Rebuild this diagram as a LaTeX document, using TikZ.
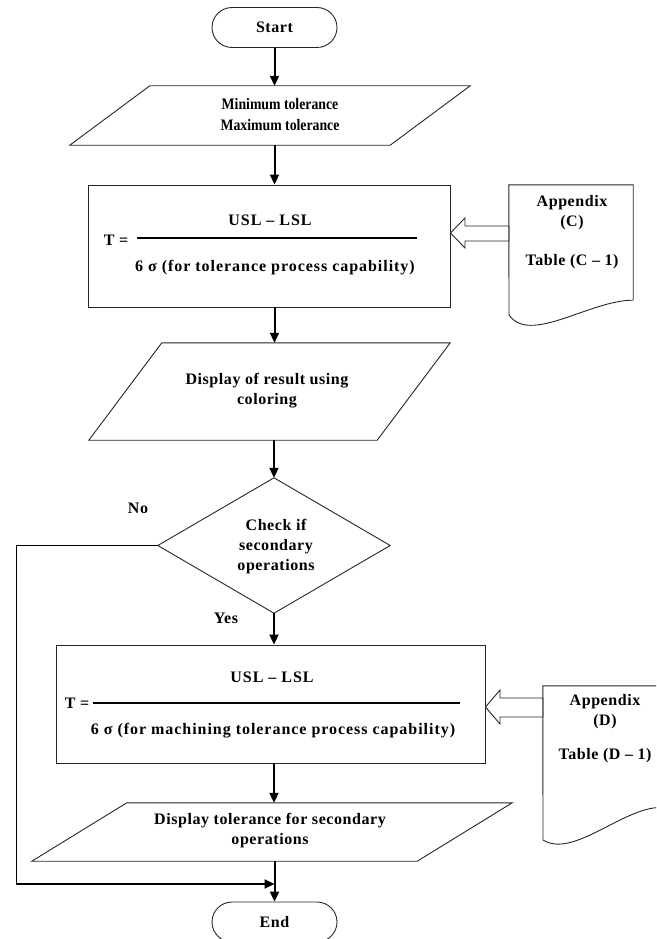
\documentclass[tikz,border=0pt]{standalone}
\usepackage{fontspec}
\setmainfont{Liberation Serif}
\newfontfamily\flowfont[LetterSpace=3.5]{Liberation Serif}
\newfontfamily\formulafont[LetterSpace=6]{Liberation Serif}
\usetikzlibrary{shapes.misc,arrows.meta,calc}
\begin{document}
\begin{tikzpicture}[x=1pt,y=-1pt,
  outline/.style={draw=black!85, line width=0.9pt},
  terminal/.style={outline, rounded rectangle, minimum width=125pt, minimum height=40pt, inner sep=0pt},
  frame/.style={outline, rectangle, inner sep=0pt},
  slot/.style={rectangle, inner sep=0pt},
  flow/.style={line width=2pt, -{Triangle[width=9pt,length=10pt]}},
  hollow/.style={draw=black!85, line width=0.9pt, fill=white, line join=miter},
  txt/.style={inner sep=0pt, align=center, font=\flowfont\fontsize{16}{20}\selectfont\bfseries},
  fml/.style={inner sep=0pt, align=center, font=\formulafont\fontsize{16}{20}\selectfont\bfseries},
  narrow/.style={inner sep=0pt, font=\fontsize{16}{21}\selectfont\bfseries},
  rule/.style={line width=2pt},
]
\useasboundingbox (0,0) rectangle (656,939);
\clip (0,0) rectangle (656,939);

% terminals
\node[terminal, txt] (start) at (274.5,27.5) {Start};
\node[terminal, txt] (end) at (274.5,922) {End};

% input: tolerances (condensed lettering)
\node[slot, minimum width=320pt, minimum height=59pt] (p1) at (270,115.5) {};
\draw[outline] ($(p1.north west)+(40,0)$) -- ($(p1.north east)+(40,0)$)
  -- ($(p1.south east)+(-40,0)$) -- ($(p1.south west)+(-40,0)$) -- cycle;
\node[narrow] (p1t) at (280,115.5)
  {\scalebox{0.86}[1]{\begin{tabular}{@{}c@{}}Minimum tolerance\\Maximum tolerance\end{tabular}}};

% process capability formula
\node[frame, minimum width=362pt, minimum height=122pt] (box1) at (269,246) {};
\node[txt] (t1) at (116,240) {T =};
\node[fml] (n1) at (270,220) {USL – LSL};
\draw[rule] (137,238) -- (417,238);
\node[fml] (d1) at (275,268) {6 σ (for tolerance process capability)};

% output: coloured result
\node[slot, minimum width=288pt, minimum height=97pt] (p2) at (269.5,391.5) {};
\draw[outline] ($(p2.north west)+(36.5,0)$) -- ($(p2.north east)+(36.5,0)$)
  -- ($(p2.south east)+(-36.5,0)$) -- ($(p2.south west)+(-36.5,0)$) -- cycle;
\node[txt] (p2t) at (267,391) {Display of result using\\coloring};

% decision
\node[slot, minimum width=232pt, minimum height=135pt] (dec) at (274,545.5) {};
\draw[outline] (dec.north) -- (dec.east) -- (dec.south) -- (dec.west) -- cycle;
\node[txt] (dect) at (276,547) {Check if\\secondary\\operations};
\node[txt] (no) at (138,508) {No};
\node[txt] (yes) at (226,618) {Yes};

% machining capability formula
\node[frame, minimum width=429pt, minimum height=118pt] (box2) at (270.5,704) {};
\node[txt] (t2) at (77,703) {T =};
\node[fml] (n2) at (272,677) {USL – LSL};
\draw[rule] (93,703) -- (460,703);
\node[fml] (d2) at (273,731) {6 σ (for machining tolerance process capability)};

% output: secondary tolerance
\node[slot, minimum width=385pt, minimum height=58pt] (p3) at (272,832) {};
\draw[outline] ($(p3.north west)+(47.5,0)$) -- ($(p3.north east)+(47.5,0)$)
  -- ($(p3.south east)+(-47.5,0)$) -- ($(p3.south west)+(-47.5,0)$) -- cycle;
\node[txt] (p3t) at (270,831) {Display tolerance for secondary\\operations};

% reference documents
\node[slot, minimum width=124pt, minimum height=115pt] (docC) at (571,242.5) {};
\draw[outline] (docC.south east) -- (docC.north east) -- (docC.north west) -- (509,315)
  .. controls (530,345) and (590,300) .. (docC.south east);
\node[txt] (docCt) at (572,232) {Appendix\\(C)\\[19pt]Table (C – 1)};

\node[slot, minimum width=125pt, minimum height=122pt] (docD) at (605.5,747) {};
\draw[outline] (docD.south east) -- (docD.north east) -- (docD.north west) -- (543,840)
  .. controls (575,860) and (630,800) .. (docD.south east);
\node[txt] (docDt) at (605,729) {Appendix\\(D)\\[14pt]Table (D – 1)};

% hollow arrows from the tables
\draw[hollow] (box1.east |- 0,233) -- (465,218) -- (465,226) -- (docC.west |- 0,226)
  -- (docC.west |- 0,241) -- (465,241) -- (465,248) -- cycle;
\draw[hollow] (box2.east |- 0,707) -- (500,690) -- (500,698) -- (docD.west |- 0,698)
  -- (docD.west |- 0,717) -- (500,717) -- (500,724) -- cycle;

% main flow
\draw[flow] (start.south) -- (start.south |- p1.north);
\draw[flow] (start.south |- p1.south) -- (start.south |- box1.north);
\draw[flow] (start.south |- box1.south) -- (start.south |- p2.north);
\draw[flow] (dec.north |- p2.south) -- (dec.north);
\draw[flow] (dec.south) -- (dec.south |- box2.north);
\draw[flow] (dec.south |- box2.south) -- (dec.south |- p3.north);
\draw[flow] (end.north |- p3.south) -- (end.north);

% "No" branch bypasses to the end
\coordinate (nocorner) at (16,884);
\draw[line width=1pt] (dec.west) -| (nocorner);
\draw[flow] (nocorner) -- (end.north |- nocorner);
\end{tikzpicture}
\end{document}
